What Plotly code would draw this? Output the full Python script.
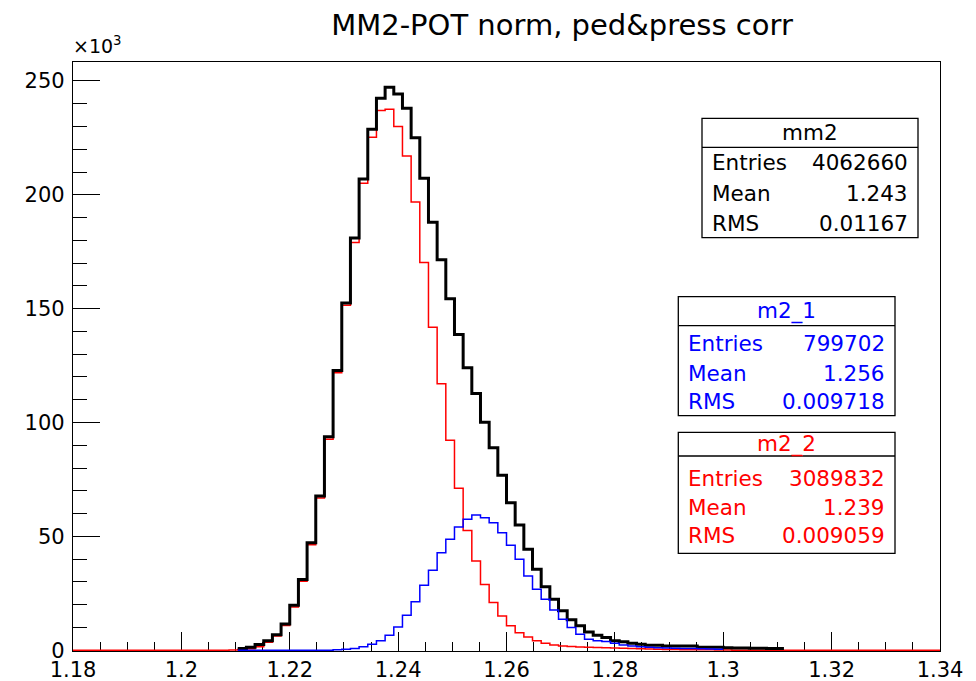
import plotly.graph_objects as go

# ---------------- data (counts in units of 10^3) ----------------
XMIN, XMAX, NBINS = 1.18, 1.34, 100

mm2_k = [0, 0, 0, 0, 0, 0, 0, 0, 0, 0,
         0, 0, 0, 0, 0, 0, 0, 0, 0.2, 0.8,
         1.3, 2.5, 4.2, 6.8, 11.5, 19.7, 31.0, 47.2, 67.7, 93.7,
         122.8, 152.5, 181.0, 206.9, 228.8, 242.4, 247.2, 244.3, 238.0, 225.1,
         207.3, 187.9, 171.5, 154.4, 138.6, 124.0, 112.7, 100.1, 88.9, 76.8,
         64.8, 55.0, 44.3, 35.5, 27.9, 22.4, 17.3, 13.4, 10.7, 8.0,
         6.6, 5.6, 4.1, 3.7, 3.1, 2.6, 2.2, 2.2, 1.8, 1.8,
         1.8, 1.8, 1.3, 1.3, 1.3, 1.1, 1.0, 1.0, 0.9, 0.9,
         0.8, 0.8, 0, 0, 0, 0, 0, 0, 0, 0,
         0, 0, 0, 0, 0, 0, 0, 0, 0, 0]

m2_1_k = [0, 0, 0, 0, 0, 0, 0, 0, 0, 0,
          0, 0, 0, 0, 0, 0, 0, 0, 0, 0,
          0, 0, 0, 0, 0, 0, 0, 0, 0, 0,
          0.2, 0.4, 0.7, 1.5, 2.6, 4.1, 6.6, 10.2, 15.4, 21.3,
          28.5, 35.1, 42.8, 48.7, 54.1, 57.5, 59.4, 58.2, 56.0, 51.6,
          46.1, 39.9, 32.6, 26.8, 22.4, 17.7, 13.6, 10.0, 7.0, 4.8,
          4.2, 3.8, 3.0, 2.3, 1.8, 1.5, 1.3, 1.1, 1.0, 0.9,
          0.8, 0.7, 0.6, 0.5, 0.4, 0, 0, 0, 0, 0,
          0, 0, 0, 0, 0, 0, 0, 0, 0, 0,
          0, 0, 0, 0, 0, 0, 0, 0, 0, 0]

m2_2_k = [0, 0, 0, 0, 0, 0, 0, 0, 0, 0,
          0, 0, 0, 0, 0, 0, 0, 0, 0.1, 0.3,
          0.6, 1.5, 3.5, 6.2, 10.8, 19.0, 30.3, 46.3, 66.8, 92.7,
          121.8, 151.5, 179.1, 205.1, 225.3, 237.0, 237.6, 230.0, 217.1, 196.8,
          170.3, 141.8, 117.0, 92.2, 71.1, 52.6, 39.2, 28.9, 20.9, 15.0,
          10.7, 7.7, 5.8, 4.1, 3.1, 2.3, 1.9, 1.6, 1.4, 1.3,
          1.2, 1.1, 1.0, 0.9, 0.8, 0.6, 0.5, 0.4, 0.35, 0.3,
          0.25, 0.2, 0.2, 0.15, 0.1, 0.1, 0, 0, 0, 0,
          0, 0, 0, 0, 0, 0, 0, 0, 0, 0,
          0, 0, 0, 0, 0, 0, 0, 0, 0, 0]

x_tick_vals = [1.18, 1.20, 1.22, 1.24, 1.26, 1.28, 1.30, 1.32, 1.34]
x_tick_text = ["1.18", "1.2", "1.22", "1.24", "1.26", "1.28", "1.3", "1.32", "1.34"]
y_tick_vals = [0, 50, 100, 150, 200, 250]

stat_names = ["mm2", "m2_1", "m2_2"]
stat_entries = ["4062660", "799702", "3089832"]
stat_means = ["1.243", "1.256", "1.239"]
stat_rms = ["0.01167", "0.009718", "0.009059"]
stat_colors = ["black", "#0000ff", "#ff0000"]

title_text = "MM2-POT norm, ped&press corr"

# ---------------- layout geometry (pixels) ----------------
W, H = 976, 681
PL, PR, PT, PB = 73, 940, 62, 651
FONT = "DejaVu Sans"


def px(x):
    return (x - PL) / (PR - PL)


def py(y):
    return (PB - y) / (PB - PT)


binw = (XMAX - XMIN) / NBINS
fig = go.Figure()


def add_hist(vals, first, last, color, width):
    edges = [XMIN + binw * i for i in range(first, last + 2)]
    ys = list(vals[first:last + 1]) + [vals[last]]
    fig.add_trace(go.Scatter(x=edges, y=ys, mode="lines",
                             line=dict(color=color, width=width, shape="hv"),
                             hoverinfo="skip", showlegend=False))


add_hist(m2_2_k, 0, NBINS - 1, "#ff0000", 1.5)
add_hist(mm2_k, 19, 81, "black", 3)
add_hist(m2_1_k, 19, 74, "#0000ff", 1.5)

# ---------------- stat boxes ----------------
boxes = [
    dict(left=702, right=918, top=118.3, sep=147.3, bottom=237.7, rows=[162.7, 193.5, 223.3]),
    dict(left=678.3, right=895, top=296.7, sep=325.7, bottom=415.7, rows=[343.3, 373.0, 401.7]),
    dict(left=678.3, right=895, top=432.3, sep=456, bottom=553.3, rows=[478.3, 507.0, 535.0]),
]
shapes = []
annotations = []
SF = 21.5
for i, b in enumerate(boxes):
    shapes.append(dict(type="rect", xref="paper", yref="paper",
                       x0=px(b["left"]), x1=px(b["right"]), y0=py(b["bottom"]), y1=py(b["top"]),
                       line=dict(color="black", width=1.3), fillcolor="white", layer="above"))
    shapes.append(dict(type="line", xref="paper", yref="paper",
                       x0=px(b["left"]), x1=px(b["right"]), y0=py(b["sep"]), y1=py(b["sep"]),
                       line=dict(color="black", width=1.3), layer="above"))
    col = stat_colors[i]
    annotations.append(dict(xref="paper", yref="paper", x=px((b["left"] + b["right"]) / 2),
                            y=py((b["top"] + b["sep"]) / 2), text=stat_names[i], showarrow=False,
                            xanchor="center", yanchor="middle", font=dict(family=FONT, size=SF, color=col)))
    for lab, val, yy in zip(["Entries", "Mean", "RMS"],
                            [stat_entries[i], stat_means[i], stat_rms[i]], b["rows"]):
        annotations.append(dict(xref="paper", yref="paper", x=px(b["left"] + 8), y=py(yy),
                                text=lab, showarrow=False, xanchor="left", yanchor="middle",
                                font=dict(family=FONT, size=SF, color=col)))
        annotations.append(dict(xref="paper", yref="paper", x=px(b["right"] - 8), y=py(yy),
                                text=val, showarrow=False, xanchor="right", yanchor="middle",
                                font=dict(family=FONT, size=SF, color=col)))

annotations.append(dict(xref="paper", yref="paper", x=px(PL - 2), y=py(59), text="×10<sup>3</sup>",
                        showarrow=False, xanchor="left", yanchor="bottom",
                        font=dict(family=FONT, size=19, color="black")))

ymax = (PB - PT) / ((PB - 81) / 250.0)

fig.update_layout(
    width=W, height=H,
    margin=dict(l=PL, r=W - PR, t=PT, b=H - PB, pad=0, autoexpand=False),
    paper_bgcolor="white", plot_bgcolor="white",
    title=dict(text=title_text, x=562 / W, xref="container", xanchor="center",
               y=1 - 25 / H, yref="container", yanchor="middle",
               font=dict(family=FONT, size=29, color="black")),
    shapes=shapes, annotations=annotations,
    xaxis=dict(range=[XMIN, XMAX], tickvals=x_tick_vals, ticktext=x_tick_text,
               ticks="inside", ticklen=19, tickwidth=1.3, tickcolor="black",
               minor=dict(dtick=0.005, tick0=XMIN, ticks="inside", ticklen=9, tickwidth=1.3, tickcolor="black"),
               showline=True, linecolor="black", linewidth=1.3, mirror=True,
               showgrid=False, zeroline=False, layer="below traces", automargin=False,
               tickfont=dict(family=FONT, size=21, color="black")),
    yaxis=dict(range=[-0.35, ymax], tickvals=y_tick_vals,
               ticks="inside", ticklen=27, tickwidth=1.3, tickcolor="black",
               minor=dict(dtick=10, tick0=0, ticks="inside", ticklen=14, tickwidth=1.3, tickcolor="black"),
               showline=True, linecolor="black", linewidth=1.3, mirror=True,
               showgrid=False, zeroline=False, layer="below traces", automargin=False,
               ticklabelstandoff=3,
               tickfont=dict(family=FONT, size=21, color="black")),
)

fig.write_html("out.html")
